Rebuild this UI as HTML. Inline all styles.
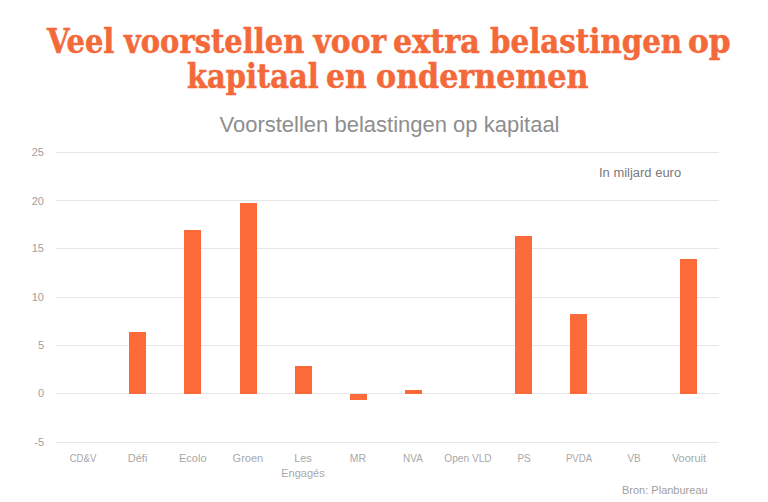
<!DOCTYPE html>
<html><head><meta charset="utf-8">
<style>
html,body{margin:0;padding:0;background:#fff;}
body{width:768px;height:502px;position:relative;overflow:hidden;font-family:"Liberation Sans",sans-serif;}
.t{position:absolute;white-space:nowrap;}
.tw{position:absolute;transform-origin:0 0;font-family:'DejaVu Serif','Liberation Serif',serif;font-weight:bold;font-stretch:condensed;font-size:33.0px;line-height:50px;color:#f4693a;-webkit-text-stroke:0.5px #f4693a;white-space:nowrap}
#sub{position:absolute;left:0;width:779px;top:112px;text-align:center;color:#8e8e8e;font-size:22px;}
.g{position:absolute;left:56px;width:663px;height:1px;background:#e6e6e6;}
.y{position:absolute;left:0;width:44px;text-align:right;color:#a0a0a0;font-size:11px;line-height:12px;}
.x{position:absolute;width:60px;text-align:center;color:#a8a8a8;font-size:11px;line-height:15px;}
.b{position:absolute;background:#fd6a3a;width:17px;}
</style></head><body>
<span class="tw" style="left:46.5px;top:17.4px;transform:scaleX(0.9739)">Veel</span>
<span class="tw" style="left:123.67px;top:17.4px;transform:scaleX(0.9747)">voorstellen</span>
<span class="tw" style="left:313.6px;top:17.4px;transform:scaleX(1.0)">voor</span>
<span class="tw" style="left:393.38px;top:17.4px;transform:scaleX(1.0202)">extra</span>
<span class="tw" style="left:489.8px;top:17.4px;transform:scaleX(0.9871)">belastingen</span>
<span class="tw" style="left:688.45px;top:17.4px;transform:scaleX(1.0538)">op</span>
<span class="tw" style="left:186.93px;top:52.2px;transform:scaleX(0.9739)">kapitaal</span>
<span class="tw" style="left:326.3px;top:52.2px;transform:scaleX(1.0026)">en</span>
<span class="tw" style="left:375.68px;top:52.2px;transform:scaleX(1.0163)">ondernemen</span>
<div id="sub">Voorstellen belastingen op kapitaal</div>

<div class="g" style="top:152px"></div>
<div class="g" style="top:200px"></div>
<div class="g" style="top:248px"></div>
<div class="g" style="top:297px"></div>
<div class="g" style="top:345px"></div>
<div class="g" style="top:393px"></div>
<div class="g" style="top:442px"></div>

<div class="y" style="top:146px">25</div>
<div class="y" style="top:195px">20</div>
<div class="y" style="top:242px">15</div>
<div class="y" style="top:291px">10</div>
<div class="y" style="top:339px">5</div>
<div class="y" style="top:387px">0</div>
<div class="y" style="top:436px">-5</div>

<div class="b" style="left:129px;top:332px;height:62px"></div>
<div class="b" style="left:184px;top:230px;height:164px"></div>
<div class="b" style="left:240px;top:203px;height:191px"></div>
<div class="b" style="left:295px;top:366px;height:28px"></div>
<div class="b" style="left:350px;top:394px;height:6px"></div>
<div class="b" style="left:405px;top:390px;height:4px"></div>
<div class="b" style="left:515px;top:236px;height:158px"></div>
<div class="b" style="left:570px;top:314px;height:80px"></div>
<div class="b" style="left:680px;top:259px;height:135px"></div>

<div class="x" style="left:52.5px;top:451px;transform:scaleX(0.87)">CD&amp;V</div>
<div class="x" style="left:107.6px;top:451px">Défi</div>
<div class="x" style="left:162.8px;top:451px">Ecolo</div>
<div class="x" style="left:217.9px;top:451px">Groen</div>
<div class="x" style="left:273px;top:451px">Les<br>Engagés</div>
<div class="x" style="left:328.2px;top:451px;transform:scaleX(0.95)">MR</div>
<div class="x" style="left:383.3px;top:451px;transform:scaleX(0.91)">NVA</div>
<div class="x" style="left:438.4px;top:451px;transform:scaleX(0.92)">Open VLD</div>
<div class="x" style="left:493.5px;top:451px;transform:scaleX(0.9)">PS</div>
<div class="x" style="left:548.7px;top:451px;transform:scaleX(0.87)">PVDA</div>
<div class="x" style="left:603.8px;top:451px;transform:scaleX(0.9)">VB</div>
<div class="x" style="left:659px;top:451px">Vooruit</div>

<div class="t" style="left:599px;top:166px;font-size:12px;color:#7a7a7a;transform-origin:0 0;transform:scaleX(1.08)">In miljard euro</div>
<div class="t" style="left:622px;top:484px;font-size:11px;color:#a0a0a0;">Bron: Planbureau</div>
</body></html>
